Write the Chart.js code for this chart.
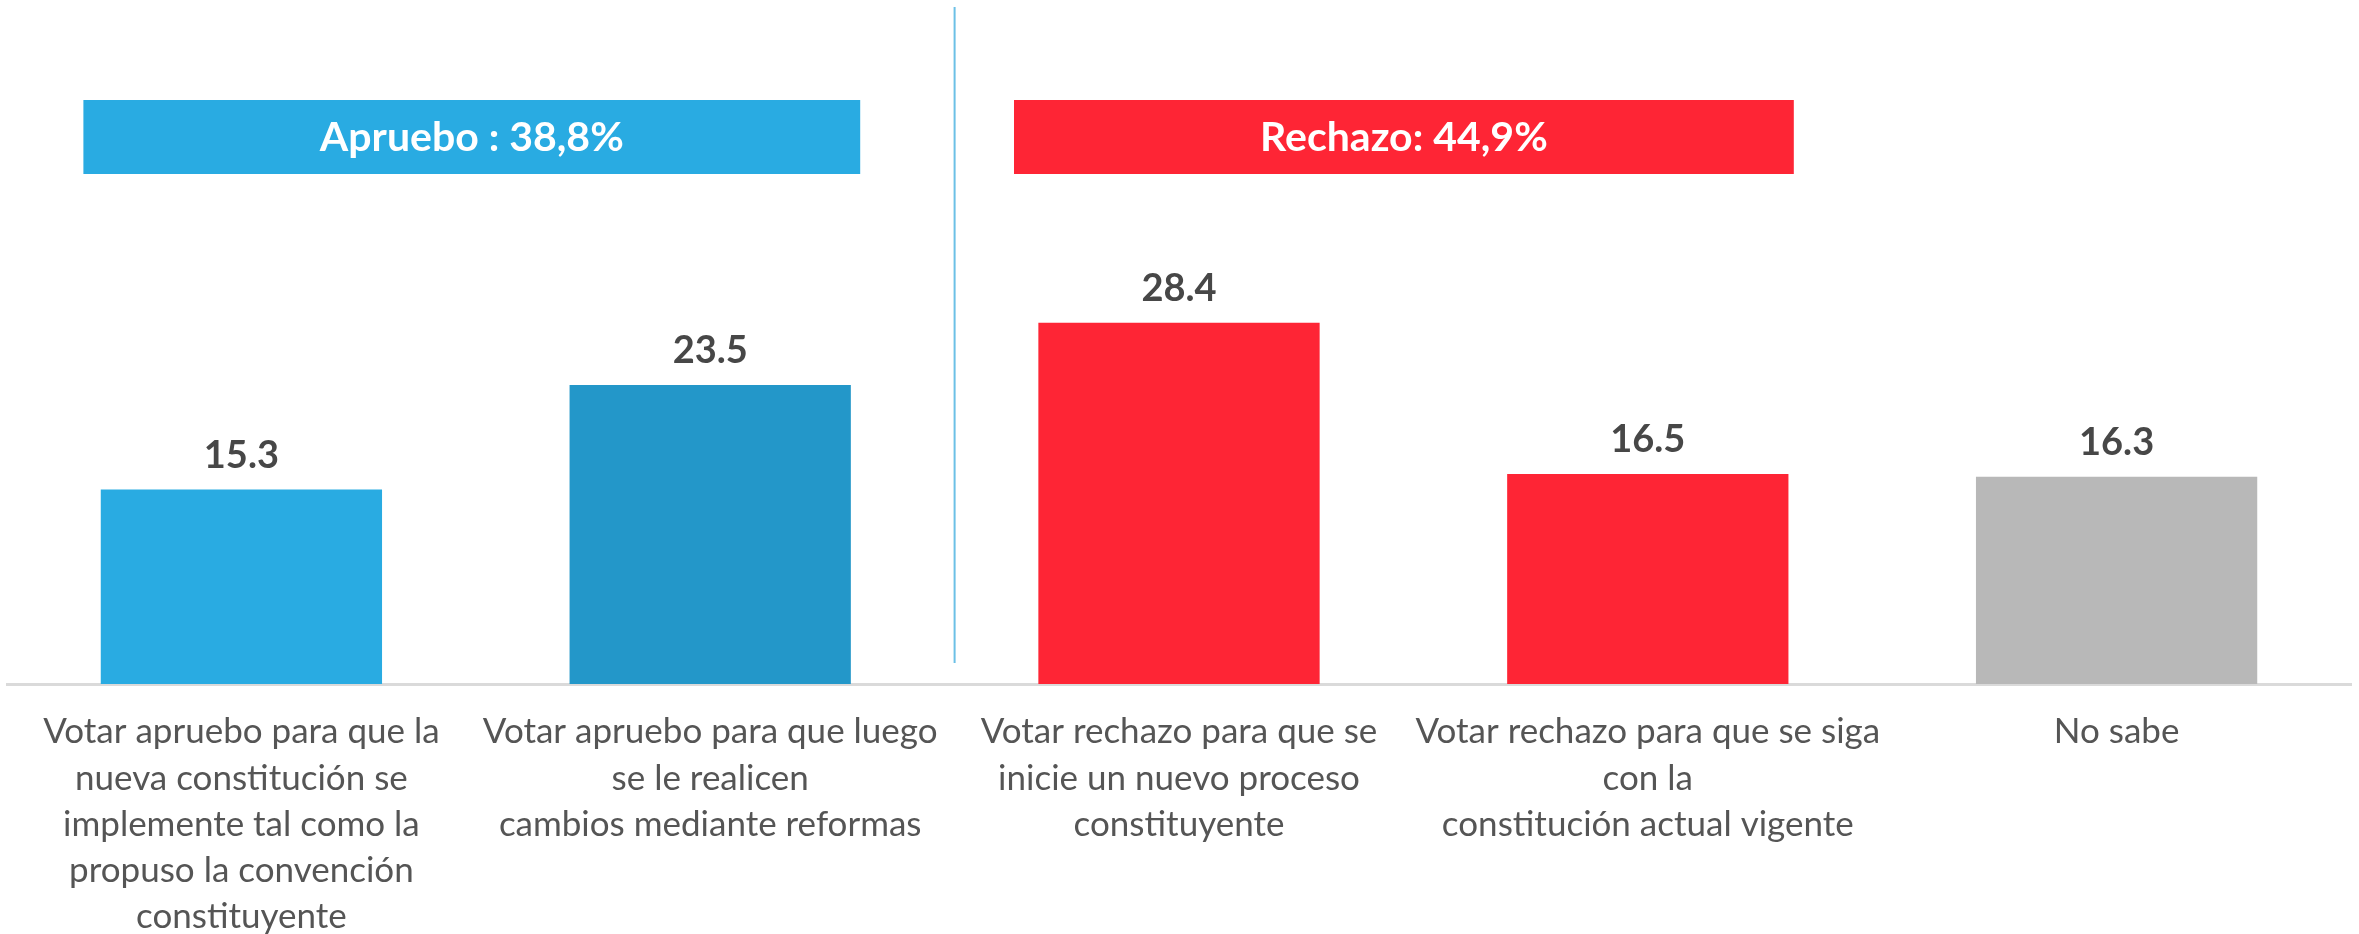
<!DOCTYPE html>
<html>
<head>
<meta charset="utf-8">
<script src="https://cdn.jsdelivr.net/npm/chart.js@4"></script>
<style>
  html, body { margin: 0; padding: 0; background: #fff; }
  #wrap { width: 2359px; height: 934px; position: relative; }
</style>
</head>
<body>
<div id="wrap"><canvas id="chart"></canvas></div>
<script>
const categories = [
  ["Votar apruebo para que la", "nueva constitución se", "implemente tal como la", "propuso la convención", "constituyente"],
  ["Votar apruebo para que luego", "se le realicen", "cambios mediante reformas"],
  ["Votar rechazo para que se", "inicie un nuevo proceso", "constituyente"],
  ["Votar rechazo para que se siga", "con la", "constitución actual vigente"],
  "No sabe"
];
const values = [15.3, 23.5, 28.4, 16.5, 16.3];

// banners above groups of bars: [first index, last index]
const bannerTexts = ["Apruebo : 38,8%", "Rechazo: 44,9%"];
const bannerGroups = [[0, 1], [2, 3]];

const barColors = ['#29abe2', '#2397c9', '#fe2535', '#fe2535', '#b8b8b8'];
const bannerColors = ['#29abe2', '#fe2535'];
const bannerPad = [[158, 150], [165, 146]];

const overlay = {
  id: 'overlay',
  afterDatasetsDraw(chart) {
    const { ctx } = chart;
    const x = chart.scales.x;
    const meta = chart.getDatasetMeta(0);

    // value labels
    ctx.save();
    ctx.font = 'bold 38px Lato';
    ctx.fillStyle = '#474747';
    ctx.textAlign = 'center';
    ctx.textBaseline = 'middle';
    meta.data.forEach((bar, i) => {
      ctx.fillText(values[i].toFixed(1), bar.x, bar.y - 34);
    });

    // divider between the two groups
    const divX = (x.getPixelForValue(1) + x.getPixelForValue(2)) / 2 + 10;
    ctx.strokeStyle = '#6cc0e6';
    ctx.lineWidth = 2;
    ctx.beginPath();
    ctx.moveTo(divX, 7);
    ctx.lineTo(divX, 663);
    ctx.stroke();

    // banners
    bannerGroups.forEach((g, k) => {
      const left = x.getPixelForValue(g[0]) - bannerPad[k][0];
      const right = x.getPixelForValue(g[1]) + bannerPad[k][1];
      ctx.fillStyle = bannerColors[k];
      ctx.fillRect(left, 100, right - left, 74);
      ctx.fillStyle = '#ffffff';
      ctx.font = 'bold 41px Lato';
      ctx.fillText(bannerTexts[k], (left + right) / 2, 138);
    });
    ctx.restore();
  }
};

new Chart(document.getElementById('chart'), {
  type: 'bar',
  data: {
    labels: categories,
    datasets: [{
      data: values,
      backgroundColor: barColors,
      borderWidth: 0,
      barPercentage: 0.6,
      categoryPercentage: 1.0
    }]
  },
  options: {
    responsive: true,
    maintainAspectRatio: false,
    animation: false,
    devicePixelRatio: 1,
    layout: { padding: { left: 7, right: 8, top: 48, bottom: 0 } },
    plugins: { legend: { display: false }, tooltip: { enabled: false } },
    scales: {
      y: {
        display: false,
        min: 0,
        max: 50
      },
      x: {
        grid: { display: false, drawTicks: false },
        border: { display: true, color: '#dadada', width: 3 },
        afterFit(scale) { scale.height = 250; },
        ticks: {
          autoSkip: false,
          maxRotation: 0,
          minRotation: 0,
          padding: 25,
          color: '#555555',
          font: { family: 'Lato', size: 35, lineHeight: 1.32 }
        }
      }
    }
  },
  plugins: [overlay]
});
</script>
</body>
</html>
